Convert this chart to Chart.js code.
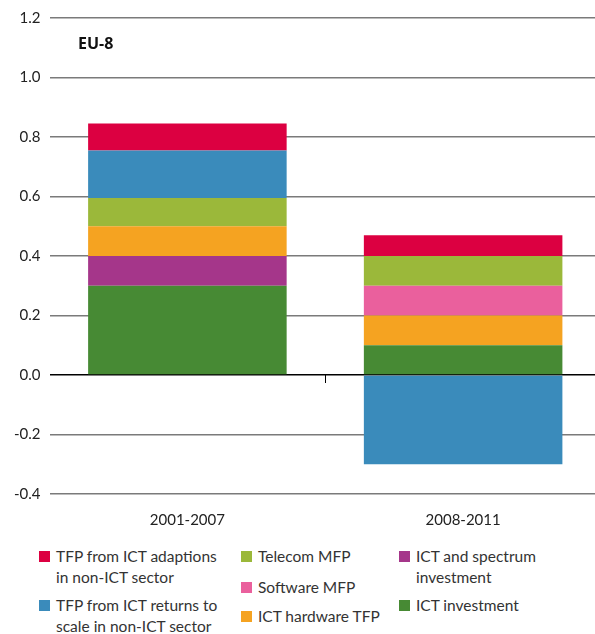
<!DOCTYPE html>
<html>
<head>
<meta charset="utf-8">
<script src="https://cdn.jsdelivr.net/npm/chart.js@4/dist/chart.umd.min.js"></script>
<style>
  html, body { margin: 0; padding: 0; background: #fff; overflow: hidden; }
  body { width: 595px; height: 634px; position: relative; font-family: Lato, sans-serif; color: #222; }
  #wrap { position: absolute; left: 0; top: 0; width: 601px; height: 546px; }
  #title { position: absolute; left: 78px; top: 32px; font-weight: bold; font-size: 16px; color: #111; font-family: "Open Sans", sans-serif; }
  .col { position: absolute; top: 546px; }
  .item { display: flex; align-items: flex-start; font-size: 15.5px; line-height: 21px; color: #333; }
  .sw { width: 11px; height: 11px; margin-top: 5px; margin-right: 6px; flex: none; }
</style>
</head>
<body>
<div id="wrap"><canvas id="chart"></canvas></div>
<div id="title">EU-8</div>
<div id="legend"></div>
<script>
console.log("EU-8 chart running");

let categories = ["2001-2007", "2008-2011"];

let ictInvestment = [0.30, 0.10];
let ictSpectrum = [0.10, 0];
let hardwareTfp = [0.10, 0.10];
let softwareMfp = [0, 0.10];
let telecomMfp = [0.095, 0.10];
let returnsToScale = [0.16, -0.30];
let adaptions = [0.09, 0.07];

let yTicks = [-0.4, -0.2, 0.0, 0.2, 0.4, 0.6, 0.8, 1.0, 1.2];

let series = [
    { label: "ICT investment", data: ictInvestment, color: "#478a34" },
    { label: "ICT and spectrum investment", data: ictSpectrum, color: "#a5368a" },
    { label: "ICT hardware TFP", data: hardwareTfp, color: "#f5a321" },
    { label: "Software MFP", data: softwareMfp, color: "#ea609d" },
    { label: "Telecom MFP", data: telecomMfp, color: "#9bb83a" },
    { label: "TFP from ICT returns to scale in non-ICT sector", data: returnsToScale, color: "#3a8bbb" },
    { label: "TFP from ICT adaptions in non-ICT sector", data: adaptions, color: "#dc0041" }
];

// small tick at zero line between the two bars
let midTick = {
    id: "midTick",
    afterDraw(chart) {
        let x = chart.scales.x, y = chart.scales.y;
        let ctx = chart.ctx;
        let px = (x.getPixelForValue(0) + x.getPixelForValue(1)) / 2;
        let py = y.getPixelForValue(0);
        ctx.save();
        ctx.strokeStyle = "#000";
        ctx.lineWidth = 1;
        ctx.beginPath();
        ctx.moveTo(Math.round(px) + 0.5, py);
        ctx.lineTo(Math.round(px) + 0.5, py + 8);
        ctx.stroke();
        ctx.restore();
    }
};

new Chart(document.getElementById("chart"), {
    type: "bar",
    data: {
        labels: categories,
        datasets: series.map(s => ({
            label: s.label,
            data: s.data,
            backgroundColor: s.color,
            borderWidth: 0,
            categoryPercentage: 1,
            barPercentage: 0.72
        }))
    },
    options: {
        responsive: true,
        maintainAspectRatio: false,
        animation: false,
        layout: { padding: { left: 5, top: 10, right: 0, bottom: 0 } },
        plugins: { legend: { display: false }, tooltip: { enabled: false } },
        scales: {
            x: {
                stacked: true,
                grid: { display: false, drawTicks: false },
                border: { display: false },
                ticks: { color: "#222", font: { family: "Lato", size: 15 }, padding: 17 }
            },
            y: {
                stacked: true,
                min: -0.4,
                max: 1.2,
                afterBuildTicks: axis => { axis.ticks = yTicks.map(v => ({ value: v })); },
                grid: {
                    drawTicks: false,
                    lineWidth: 1.5,
                    color: ctx => ctx.tick && ctx.tick.value === 0 ? "#000" : "#7a7a7a"
                },
                border: { display: false },
                ticks: {
                    color: "#222",
                    font: { family: "Lato", size: 15 },
                    padding: 9,
                    callback: v => v.toFixed(1)
                }
            }
        }
    },
    plugins: [midTick]
});

// legend built as html, three columns
let legendCols = [
    { left: 39, width: 190, items: [6, 5], gaps: [0, 7] },
    { left: 241, width: 150, items: [4, 3, 2], gaps: [0, 10, 8] },
    { left: 399, width: 200, items: [1, 0], gaps: [0, 7] }
];
let legend = document.getElementById("legend");
legendCols.forEach(c => {
    let col = document.createElement("div");
    col.className = "col";
    col.style.left = c.left + "px";
    col.style.width = c.width + "px";
    c.items.forEach((i, k) => {
        let s = series[i];
        let el = document.createElement("div");
        el.className = "item";
        el.style.marginTop = c.gaps[k] + "px";
        el.innerHTML = `<div class="sw" style="background:${s.color}"></div><div>${s.label}</div>`;
        col.appendChild(el);
    });
    legend.appendChild(col);
});
</script>
</body>
</html>
